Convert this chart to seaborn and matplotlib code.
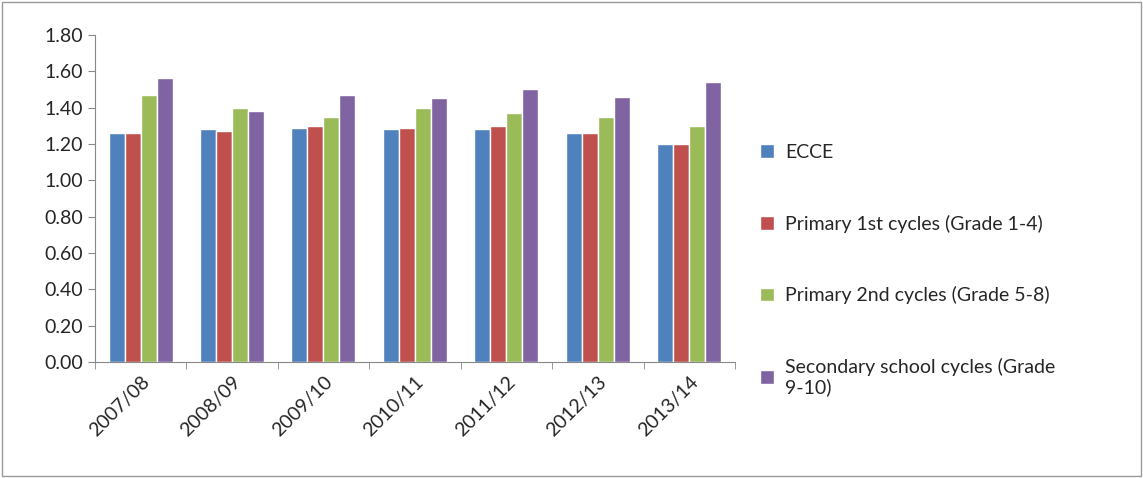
import pandas as pd
import matplotlib
matplotlib.use("Agg")
import matplotlib.pyplot as plt
import seaborn as sns

years = ["2007/08", "2008/09", "2009/10", "2010/11", "2011/12", "2012/13", "2013/14"]
ecce = [1.26, 1.28, 1.29, 1.28, 1.28, 1.26, 1.20]
primary1 = [1.26, 1.27, 1.30, 1.29, 1.30, 1.26, 1.20]
primary2 = [1.47, 1.40, 1.35, 1.40, 1.37, 1.35, 1.30]
secondary = [1.56, 1.38, 1.47, 1.45, 1.50, 1.46, 1.54]
series = ["ECCE", "Primary 1st cycles (Grade 1-4)", "Primary 2nd cycles (Grade 5-8)",
          "Secondary school cycles (Grade\n9-10)"]
palette = ["#4F81BD", "#C0504D", "#9BBB59", "#8064A2"]

rows = []
for name, vals in zip(series, [ecce, primary1, primary2, secondary]):
    for y, v in zip(years, vals):
        rows.append({"year": y, "series": name, "value": v})
df = pd.DataFrame(rows)

sns.set_style("white")
plt.rcParams['font.family'] = ['Lato', 'DejaVu Sans']

fig = plt.figure(figsize=(11.43, 4.78), dpi=100)
ax = fig.add_axes([0.083, 0.243, 0.560, 0.684])
sns.barplot(data=df, x="year", y="value", hue="series", palette=palette,
            width=0.7, gap=0, saturation=1, ax=ax, legend=True)

ax.set_ylim(0, 1.8)
ax.set_xlim(-0.5, len(years) - 0.5)
ax.set_yticks([i * 0.2 for i in range(10)])
ax.set_yticklabels([f"{i * 0.2:.2f}" for i in range(10)], fontsize=14)
ax.set_xticks(range(len(years)))
ax.set_xticklabels(years, rotation=45, ha="right", rotation_mode="anchor", fontsize=14)
ax.set_xticks([i - 0.5 for i in range(len(years) + 1)], minor=True)
ax.set_xlabel("")
ax.set_ylabel("")
for s in ["top", "right"]:
    ax.spines[s].set_visible(False)
for s in ["left", "bottom"]:
    ax.spines[s].set_color("#888888")
ax.tick_params(axis="y", length=5, color="#888888", direction="out", left=True)
ax.tick_params(axis="x", which="major", length=0, pad=8)
ax.tick_params(axis="x", which="minor", length=5, color="#888888", direction="out", bottom=True)

h, l = ax.get_legend_handles_labels()
ax.legend(h, l, loc="center left", bbox_to_anchor=(1.012, 0.28), frameon=False,
          fontsize=14, labelspacing=2.75, handlelength=0.7, handleheight=0.7,
          handletextpad=0.6)

fig.patches.append(plt.Rectangle((0.002, 0.004), 0.996, 0.992, transform=fig.transFigure,
                                 fill=False, edgecolor="#999999", linewidth=1))
fig.savefig("out.png", dpi=100)
